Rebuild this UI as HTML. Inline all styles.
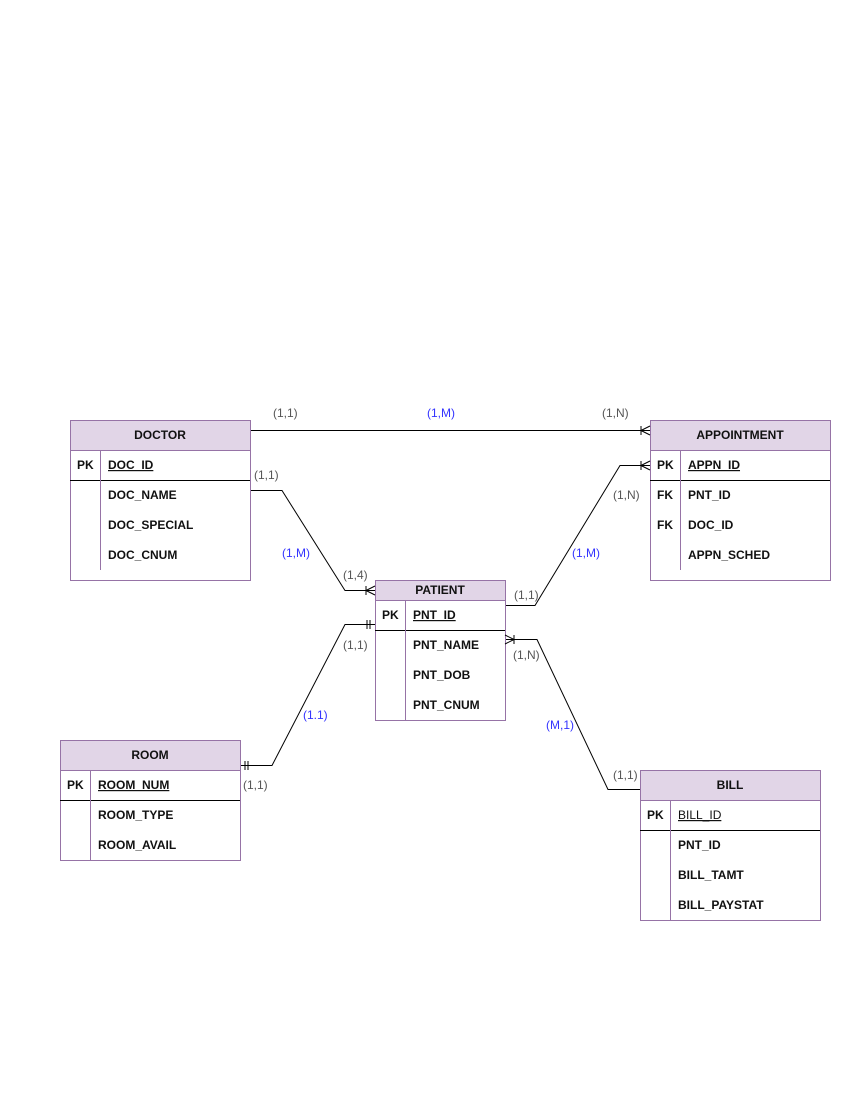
<!DOCTYPE html>
<html><head><style>body{margin:0;background:#fff}</style></head><body>
<svg width="850" height="1100" xmlns="http://www.w3.org/2000/svg" font-family="Liberation Sans, sans-serif" font-size="12">
<defs>
<style>
.box{fill:#fff;stroke:#9673a6;stroke-width:1}
.hd{fill:#e1d5e7;stroke:#9673a6;stroke-width:1}
.t{font-weight:bold;fill:#111}
.ln{stroke:#000;stroke-width:1;fill:none}
.g{fill:#555}
.b{fill:#3333ff}
</style>
</defs>
<!-- DOCTOR -->
<rect class="box" x="70.5" y="420.5" width="180" height="160"/>
<rect class="hd" x="70.5" y="420.5" width="180" height="30"/>
<text class="t" x="160" y="439" text-anchor="middle">DOCTOR</text>
<line class="ln" x1="70" y1="480.5" x2="250" y2="480.5"/>
<line x1="100.5" y1="450" x2="100.5" y2="570" stroke="#9673a6"/>
<text class="t" x="77" y="469">PK</text>
<text class="t" x="108" y="469" text-decoration="underline">DOC_ID</text>
<text class="t" x="108" y="499">DOC_NAME</text>
<text class="t" x="108" y="529">DOC_SPECIAL</text>
<text class="t" x="108" y="559">DOC_CNUM</text>
<!-- APPOINTMENT -->
<rect class="box" x="650.5" y="420.5" width="180" height="160"/>
<rect class="hd" x="650.5" y="420.5" width="180" height="30"/>
<text class="t" x="740" y="439" text-anchor="middle">APPOINTMENT</text>
<line class="ln" x1="650" y1="480.5" x2="830" y2="480.5"/>
<line x1="680.5" y1="450" x2="680.5" y2="570" stroke="#9673a6"/>
<text class="t" x="657" y="469">PK</text>
<text class="t" x="688" y="469" text-decoration="underline">APPN_ID</text>
<text class="t" x="657" y="499">FK</text>
<text class="t" x="688" y="499">PNT_ID</text>
<text class="t" x="657" y="529">FK</text>
<text class="t" x="688" y="529">DOC_ID</text>
<text class="t" x="688" y="559">APPN_SCHED</text>
<!-- PATIENT -->
<rect class="box" x="375.5" y="580.5" width="130" height="140"/>
<rect class="hd" x="375.5" y="580.5" width="130" height="20"/>
<text class="t" x="440" y="594" text-anchor="middle">PATIENT</text>
<line class="ln" x1="375" y1="630.5" x2="505" y2="630.5"/>
<line x1="405.5" y1="600" x2="405.5" y2="720" stroke="#9673a6"/>
<text class="t" x="382" y="619">PK</text>
<text class="t" x="413" y="619" text-decoration="underline">PNT_ID</text>
<text class="t" x="413" y="649">PNT_NAME</text>
<text class="t" x="413" y="679">PNT_DOB</text>
<text class="t" x="413" y="709">PNT_CNUM</text>
<!-- ROOM -->
<rect class="box" x="60.5" y="740.5" width="180" height="120"/>
<rect class="hd" x="60.5" y="740.5" width="180" height="30"/>
<text class="t" x="150" y="759" text-anchor="middle">ROOM</text>
<line class="ln" x1="60" y1="800.5" x2="240" y2="800.5"/>
<line x1="90.5" y1="770" x2="90.5" y2="860" stroke="#9673a6"/>
<text class="t" x="67" y="789">PK</text>
<text class="t" x="98" y="789" text-decoration="underline">ROOM_NUM</text>
<text class="t" x="98" y="819">ROOM_TYPE</text>
<text class="t" x="98" y="849">ROOM_AVAIL</text>
<!-- BILL -->
<rect class="box" x="640.5" y="770.5" width="180" height="150"/>
<rect class="hd" x="640.5" y="770.5" width="180" height="30"/>
<text class="t" x="730" y="789" text-anchor="middle">BILL</text>
<line class="ln" x1="640" y1="830.5" x2="820" y2="830.5"/>
<line x1="670.5" y1="800" x2="670.5" y2="920" stroke="#9673a6"/>
<text class="t" x="647" y="819">PK</text>
<text x="678" y="819" fill="#111" text-decoration="underline">BILL_ID</text>
<text class="t" x="678" y="849">PNT_ID</text>
<text class="t" x="678" y="879">BILL_TAMT</text>
<text class="t" x="678" y="909">BILL_PAYSTAT</text>
<!-- connectors -->
<path class="ln" d="M251 430.5H650 M641 426V435 M641 430.5L650 426 M641 430.5L650 435"/>
<path class="ln" d="M251 490.5H282L345 590.5H375 M366 586V595 M366 590.5L375 586 M366 590.5L375 595"/>
<path class="ln" d="M506 605.5H535L620 465.5H650 M641 461V470 M641 465.5L650 461 M641 465.5L650 470"/>
<path class="ln" d="M241 765.5H272L345 624.5H375 M367 620V629 M370 620V629 M245 761V770 M248 761V770"/>
<path class="ln" d="M506 639.5H537L608 789.5H640 M514 635V644 M505 635L514 639.5 M505 644L514 639.5"/>
<!-- labels -->
<text class="g" x="273" y="417">(1,1)</text>
<text class="b" x="427" y="417">(1,M)</text>
<text class="g" x="602" y="417">(1,N)</text>
<text class="g" x="254" y="479">(1,1)</text>
<text class="b" x="282" y="557">(1,M)</text>
<text class="g" x="343" y="579">(1,4)</text>
<text class="g" x="613" y="499">(1,N)</text>
<text class="b" x="572" y="557">(1,M)</text>
<text class="g" x="514" y="599">(1,1)</text>
<text class="g" x="343" y="649">(1,1)</text>
<text class="b" x="303" y="719">(1.1)</text>
<text class="g" x="243" y="789">(1,1)</text>
<text class="g" x="513" y="659">(1,N)</text>
<text class="b" x="546" y="729">(M,1)</text>
<text class="g" x="613" y="779">(1,1)</text>
</svg>
</body></html>
